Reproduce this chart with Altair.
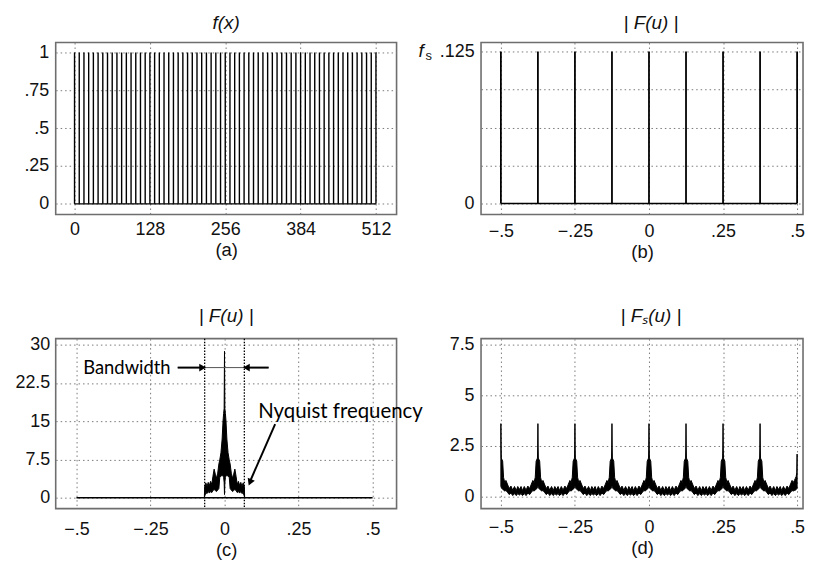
import altair as alt
import pandas as pd

FONT = "Liberation Sans"
ANNOT_FONT = "Lato"

# ---------------- data ----------------
# (a) impulse train f(x)
a_spike_x = [0, 8, 16, 24, 32, 40, 48, 56, 64, 72, 80, 88, 96, 104, 112, 120,
             128, 136, 144, 152, 160, 168, 176, 184, 192, 200, 208, 216, 224, 232, 240, 248,
             256, 264, 272, 280, 288, 296, 304, 312, 320, 328, 336, 344, 352, 360, 368, 376,
             384, 392, 400, 408, 416, 424, 432, 440, 448, 456, 464, 472, 480, 488, 496, 504, 512]
a_spike_height = 1.0
a_x_ticks = [0, 128, 256, 384, 512]
a_x_labels = ["0", "128", "256", "384", "512"]
a_y_ticks = [0, 0.25, 0.5, 0.75, 1]
a_y_labels = ["0", ".25", ".5", ".75", "1"]

# shared frequency axis
freq_ticks = [-0.5, -0.25, 0, 0.25, 0.5]
freq_labels = ["\u2212.5", "\u2212.25", "0", ".25", ".5"]

# (b) |F(u)| of the impulse train
b_spike_u = [-0.5, -0.375, -0.25, -0.125, 0, 0.125, 0.25, 0.375, 0.5]
b_spike_height = 0.125
b_y_ticks = [0, 0.03125, 0.0625, 0.09375, 0.125]
b_y_labels = ["0", "", "", "", ".125"]

# (c) |F(u)| of band-limited signal: upper / lower envelope of the dense trace
c_u = [-0.068, -0.067, -0.063, -0.059, -0.055, -0.051, -0.047, -0.043, -0.039, -0.035,
       -0.031, -0.027, -0.023, -0.019, -0.016, -0.012, -0.008, -0.005, -0.003, -0.0012, 0.0,
       0.0012, 0.003, 0.005, 0.008, 0.012, 0.016, 0.019, 0.023, 0.027, 0.031,
       0.035, 0.039, 0.043, 0.047, 0.051, 0.055, 0.059, 0.063, 0.067, 0.068]
c_hi = [0, 2.2, 2.9, 2.2, 3.0, 2.4, 3.2, 2.6, 4.2, 5.6,
        4.6, 3.8, 4.8, 6.6, 7.4, 8.8, 11.5, 15.0, 16.5, 17.5, 28.7,
        17.5, 16.5, 15.0, 11.5, 8.8, 7.4, 6.6, 4.8, 3.8, 4.6,
        5.6, 4.2, 2.6, 3.2, 2.4, 3.0, 2.2, 2.9, 2.2, 0]
c_lo = [0, 0.3, 1.0, 0.8, 1.2, 0.9, 1.2, 1.0, 1.4, 1.6,
        1.4, 1.2, 1.5, 1.8, 4.0, 4.2, 4.4, 4.2, 4.0, 3.0, 0.6,
        3.0, 4.0, 4.2, 4.4, 4.2, 4.0, 1.8, 1.5, 1.2, 1.4,
        1.6, 1.4, 1.0, 1.2, 0.9, 1.2, 0.8, 1.0, 0.3, 0]
c_band = [-0.067, 0.067]
c_y_ticks = [0, 7.5, 15, 22.5, 30]
c_y_labels = ["0", "7.5", "15", "22.5", "30"]

# (d) |Fs(u)|: replicas centred at the sampling frequencies
d_centers = [-0.5, -0.375, -0.25, -0.125, 0, 0.125, 0.25, 0.375]
d_off = [-0.0625, -0.057, -0.052, -0.046, -0.040, -0.034, -0.028, -0.022, -0.017, -0.013,
         -0.009, -0.006, -0.003, -0.0015, -0.0008, 0.0, 0.0008, 0.0015, 0.003, 0.006,
         0.009, 0.013, 0.017, 0.022, 0.028, 0.034, 0.040, 0.046, 0.052, 0.057]
d_hi = [0.35, 0.50, 0.30, 0.50, 0.32, 0.52, 0.40, 0.62, 0.80, 0.70,
        0.95, 1.75, 1.85, 1.90, 2.40, 3.60, 2.40, 1.90, 1.85, 1.75,
        0.95, 0.70, 0.80, 0.62, 0.40, 0.52, 0.32, 0.50, 0.30, 0.50]
d_lo = [0.08, 0.15, 0.05, 0.15, 0.05, 0.18, 0.10, 0.22, 0.30, 0.28,
        0.32, 0.38, 0.40, 0.45, 0.50, 0.50, 0.50, 0.45, 0.40, 0.38,
        0.32, 0.28, 0.30, 0.22, 0.10, 0.18, 0.05, 0.15, 0.05, 0.15]
d_end_off = [-0.0625, -0.057, -0.052, -0.046, -0.040, -0.034, -0.028, -0.022, -0.017, -0.013,
             -0.009, -0.006, -0.003, -0.001, 0.0]
d_end_hi = [0.35, 0.50, 0.30, 0.50, 0.32, 0.52, 0.40, 0.62, 0.80, 0.70, 0.80, 0.90, 1.00, 1.20, 2.10]
d_end_lo = [0.08, 0.15, 0.05, 0.15, 0.05, 0.18, 0.10, 0.22, 0.30, 0.28, 0.30, 0.32, 0.35, 0.40, 0.40]
d_y_ticks = [0, 2.5, 5, 7.5]
d_y_labels = ["0", "2.5", "5", "7.5"]

# ---------------- helpers ----------------
def lab_expr(values, labels):
    expr = "''"
    for v, l in reversed(list(zip(values, labels))):
        expr = f"abs(datum.value - ({v})) < 1e-9 ? '{l}' : {expr}"
    return expr


def ax(values, labels, title=None, pad=6):
    kw = dict(values=values, labelExpr=lab_expr(values, labels), labelPadding=pad, grid=True)
    if title is not None:
        kw["title"] = title
        kw["titlePadding"] = 2
    else:
        kw["title"] = None
    return alt.Axis(**kw)


def sc(domain):
    return alt.Scale(domain=domain, nice=False, zero=False)


def title(text, dx=0):
    return alt.TitleParams(text=text, font=FONT, fontSize=19, fontStyle="italic",
                           fontWeight="normal", color="#111", offset=10, dx=dx)

# ---------------- panel (a) ----------------
ax_a_x = ax(a_x_ticks, a_x_labels, "(a)", 6)
ax_a_y = ax(a_y_ticks, a_y_labels, None, 7)
sx_a = sc([-32, 547])
sy_a = sc([-0.07, 1.066])

a_df = pd.DataFrame({"x": a_spike_x, "y0": 0.0, "y1": a_spike_height})
a_base = pd.DataFrame({"x": [a_spike_x[0]], "x2": [a_spike_x[-1]], "y": [0.0]})

a_spikes = alt.Chart(a_df).mark_rule(color="black", strokeWidth=1.4).encode(
    x=alt.X("x:Q", scale=sx_a, axis=ax_a_x),
    y=alt.Y("y0:Q", scale=sy_a, axis=ax_a_y), y2="y1:Q")
a_line = alt.Chart(a_base).mark_rule(color="black", strokeWidth=1.4).encode(
    x=alt.X("x:Q", scale=sx_a, axis=ax_a_x), x2="x2:Q",
    y=alt.Y("y:Q", scale=sy_a, axis=ax_a_y))
panel_a = alt.layer(a_line, a_spikes).properties(width=343, height=173, title=title("f(x)"))

# ---------------- panel (b) ----------------
ax_b_x = ax(freq_ticks, freq_labels, "(b)", 8)
ax_b_y = ax(b_y_ticks, b_y_labels, None, 7)
sx_b = sc([-0.567, 0.52])
sy_b = sc([-0.009, 0.1324])

b_df = pd.DataFrame({"u": b_spike_u, "y0": 0.0, "y1": b_spike_height})
b_base = pd.DataFrame({"u": [b_spike_u[0]], "u2": [b_spike_u[-1]], "y": [0.0]})
b_spikes = alt.Chart(b_df).mark_rule(color="black", strokeWidth=1.8).encode(
    x=alt.X("u:Q", scale=sx_b, axis=ax_b_x),
    y=alt.Y("y0:Q", scale=sy_b, axis=ax_b_y), y2="y1:Q")
b_line = alt.Chart(b_base).mark_rule(color="black", strokeWidth=1.6).encode(
    x=alt.X("u:Q", scale=sx_b, axis=ax_b_x), x2="u2:Q",
    y=alt.Y("y:Q", scale=sy_b, axis=ax_b_y))
fs_df = pd.DataFrame({"u": [-0.567], "y": [b_spike_height]})
b_f = alt.Chart(fs_df).mark_text(text="f", font=FONT, fontSize=19, fontStyle="italic",
                                 align="left", baseline="middle", dx=-63, color="#111").encode(
    x=alt.X("u:Q", scale=sx_b, axis=ax_b_x), y=alt.Y("y:Q", scale=sy_b, axis=ax_b_y))
b_s = alt.Chart(fs_df).mark_text(text="s", font=FONT, fontSize=13,
                                 align="left", baseline="middle", dx=-56, dy=5, color="#111").encode(
    x=alt.X("u:Q", scale=sx_b, axis=ax_b_x), y=alt.Y("y:Q", scale=sy_b, axis=ax_b_y))
panel_b = alt.layer(b_line, b_spikes, b_f, b_s).properties(
    width=324, height=173, title=title("| F(u) |", dx=9))

# ---------------- panel (c) ----------------
ax_c_x = ax(freq_ticks, freq_labels, "(c)", 12)
ax_c_y = ax(c_y_ticks, c_y_labels, None, 6)
sx_c = sc([-0.57, 0.581])
sy_c = sc([-2.14, 31.17])

c_df = pd.DataFrame({"u": c_u, "hi": c_hi, "lo": c_lo})
c_base = pd.DataFrame({"u": [-0.5], "u2": [0.5], "y": [0.0]})
c_band_df = pd.DataFrame({"u": c_band})

c_line = alt.Chart(c_base).mark_rule(color="black", strokeWidth=1.4).encode(
    x=alt.X("u:Q", scale=sx_c, axis=ax_c_x), x2="u2:Q",
    y=alt.Y("y:Q", scale=sy_c, axis=ax_c_y))
c_area = alt.Chart(c_df).mark_area(color="black", stroke="black", strokeWidth=1,
                                   opacity=1).encode(
    x=alt.X("u:Q", scale=sx_c, axis=ax_c_x),
    y=alt.Y("hi:Q", scale=sy_c, axis=ax_c_y), y2="lo:Q")
c_bands = alt.Chart(c_band_df).mark_rule(color="black", strokeWidth=1.3, strokeDash=[1.5, 1.5]).encode(
    x=alt.X("u:Q", scale=sx_c, axis=ax_c_x))

# annotations
bw_y = 25.5
bw_text = pd.DataFrame({"u": [-0.477], "y": [bw_y], "t": ["Bandwidth"]})
ny_text = pd.DataFrame({"u": [0.114], "y": [15.6], "t": ["Nyquist frequency"]})
bw_thin = pd.DataFrame({"u": [-0.158], "u2": [0.149], "y": [bw_y]})
bw_arrows = pd.DataFrame({"u": [-0.158, 0.149], "u2": [-0.075, 0.075], "y": [bw_y, bw_y]})
bw_heads_r = pd.DataFrame({"u": [-0.074], "y": [bw_y]})
bw_heads_l = pd.DataFrame({"u": [0.074], "y": [bw_y]})
ny_arrow = pd.DataFrame({"u": [0.171], "y": [14.4], "u2": [0.087], "y2": [3.3]})
ny_head = pd.DataFrame({"u": [0.086], "y": [3.0]})

def cx(f="u:Q"):
    return alt.X(f, scale=sx_c, axis=ax_c_x)

def cy(f="y:Q"):
    return alt.Y(f, scale=sy_c, axis=ax_c_y)

c_bw_text = alt.Chart(bw_text).mark_text(font=ANNOT_FONT, fontSize=18.5, align="left",
                                         baseline="middle", color="black").encode(
    x=cx(), y=cy(), text="t:N")
c_ny_text = alt.Chart(ny_text).mark_text(font=ANNOT_FONT, fontSize=20.5, align="left",
                                         baseline="alphabetic", color="black").encode(
    x=cx(), y=cy(), text="t:N")
c_thin = alt.Chart(bw_thin).mark_rule(color="#555", strokeWidth=1).encode(
    x=cx(), x2="u2:Q", y=cy())
c_arr = alt.Chart(bw_arrows).mark_rule(color="black", strokeWidth=2).encode(
    x=cx(), x2="u2:Q", y=cy())
c_hr = alt.Chart(bw_heads_r).mark_point(shape="triangle-right", filled=True, size=60,
                                        color="black", opacity=1).encode(x=cx(), y=cy())
c_hl = alt.Chart(bw_heads_l).mark_point(shape="triangle-left", filled=True, size=60,
                                        color="black", opacity=1).encode(x=cx(), y=cy())
c_ny_arr = alt.Chart(ny_arrow).mark_rule(color="black", strokeWidth=2).encode(
    x=cx(), x2="u2:Q", y=cy(), y2="y2:Q")
c_ny_head = alt.Chart(ny_head).mark_point(shape="triangle-up", angle=203, filled=True,
                                          size=60, color="black", opacity=1).encode(x=cx(), y=cy())

panel_c = alt.layer(c_line, c_bands, c_area, c_thin, c_arr, c_hr, c_hl,
                    c_ny_arr, c_ny_head, c_bw_text, c_ny_text).properties(
    width=343, height=171, title=title("| F(u) |"))

# ---------------- panel (d) ----------------
ax_d_x = ax(freq_ticks, freq_labels, "(d)", 10)
ax_d_y = ax(d_y_ticks, d_y_labels, None, 7)
sx_d = sc([-0.567, 0.52])
sy_d = sc([-0.59, 7.79])

rows = []
for cen in d_centers:
    for o, h, l in zip(d_off, d_hi, d_lo):
        u = cen + o
        if u < -0.5 - 1e-9:
            continue
        rows.append({"u": u, "hi": h, "lo": l})
for o, h, l in zip(d_end_off, d_end_hi, d_end_lo):
    rows.append({"u": 0.5 + o, "hi": h, "lo": l})
d_df = pd.DataFrame(rows).sort_values("u")

d_area = alt.Chart(d_df).mark_area(color="black", stroke="black", strokeWidth=1,
                                   opacity=1).encode(
    x=alt.X("u:Q", scale=sx_d, axis=ax_d_x),
    y=alt.Y("hi:Q", scale=sy_d, axis=ax_d_y), y2="lo:Q")
panel_d = alt.layer(d_area).properties(width=324, height=171,
                                       title=title("| F\u209b(u) |", dx=9))

chart = alt.concat(panel_a, panel_b, panel_c, panel_d, columns=2,
                   spacing={"row": 125, "column": 85}, bounds="flush").properties(
    padding={"left": 6, "top": 3, "right": 0, "bottom": 0},
    background="white",
).configure_view(
    stroke="#6e6e6e", strokeWidth=1.6
).configure_axis(
    labelFont=FONT, labelFontSize=18, labelColor="#111",
    ticks=False, tickSize=0, domain=False,
    gridColor="#7a7a7a", gridDash=[1.5, 3], gridWidth=1, gridOpacity=1,
    titleFont=FONT, titleFontSize=18.5, titleFontWeight="normal", titleColor="#111",
)

chart.save("out.html", embed_options={"renderer": "svg", "actions": False})
